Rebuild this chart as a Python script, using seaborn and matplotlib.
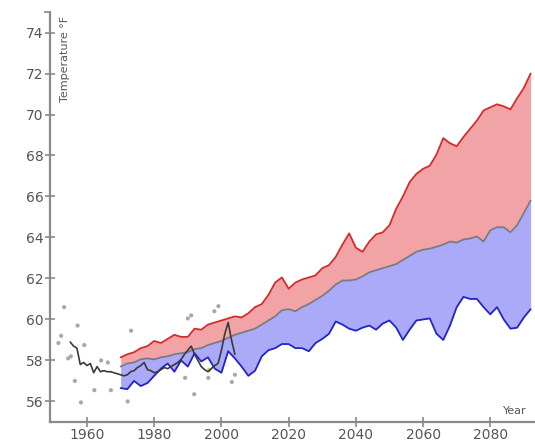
import numpy as np
import pandas as pd
import matplotlib
matplotlib.use("Agg")
import matplotlib.pyplot as plt
import matplotlib.ticker as mticker
import seaborn as sns

# ------------------------------------------------------------
# data
# ------------------------------------------------------------
obs_years = [1951.5, 1952.3, 1953.2, 1954.4, 1955.2, 1956.4, 1957.2, 1958.2, 1959.2,
             1962.2, 1964.2, 1966.2, 1967.1, 1972.1, 1973.1, 1989.2, 1990.0, 1991.0,
             1991.9, 1996.1, 1997.9, 1999.1, 2003.1, 2004.0]
obs_temps = [58.85, 59.2, 60.6, 58.1, 58.2, 57.0, 59.7, 55.95, 58.75,
             56.55, 58.0, 57.9, 56.55, 56.0, 59.45, 57.15, 60.05, 60.2,
             56.35, 57.15, 60.4, 60.65, 56.95, 57.3]
odd_year = [1996.4]
odd_temp = [57.55]

mean_years = list(range(1955, 2005))
mean_temps = [58.9, 58.7, 58.6, 57.8, 57.9, 57.75, 57.85, 57.4, 57.7, 57.45,
              57.5, 57.45, 57.45, 57.4, 57.35, 57.3, 57.25, 57.3, 57.45, 57.5,
              57.65, 57.75, 57.9, 57.55, 57.5, 57.4, 57.45, 57.55, 57.65, 57.6,
              57.7, 57.8, 57.9, 58.05, 58.3, 58.5, 58.7, 58.3, 58.0, 57.7,
              57.55, 57.45, 57.6, 57.75, 57.85, 58.5, 59.3, 59.85, 59.0, 58.3]

proj_years = list(range(1970, 2093, 2))
high = [58.15, 58.3, 58.4, 58.6, 58.7, 58.95, 58.85, 59.05, 59.25, 59.15,
        59.15, 59.55, 59.5, 59.75, 59.85, 59.95, 60.05, 60.15, 60.1, 60.3,
        60.6, 60.75, 61.2, 61.8, 62.05, 61.5, 61.8, 61.95, 62.05, 62.15,
        62.5, 62.65, 63.05, 63.65, 64.2, 63.5, 63.3, 63.8, 64.15, 64.25,
        64.6, 65.4, 66.0, 66.7, 67.1, 67.35, 67.5, 68.05, 68.85, 68.6,
        68.45, 68.9, 69.3, 69.7, 70.2, 70.35, 70.5, 70.4, 70.25, 70.8,
        71.3, 72.0]
mid = [57.7, 57.85, 57.9, 58.05, 58.1, 58.05, 58.15, 58.2, 58.3, 58.35,
       58.4, 58.55, 58.6, 58.75, 58.85, 58.95, 59.1, 59.25, 59.35, 59.45,
       59.55, 59.75, 59.95, 60.15, 60.45, 60.5, 60.4, 60.6, 60.75, 60.95,
       61.15, 61.4, 61.7, 61.9, 61.9, 61.95, 62.1, 62.3, 62.4, 62.5,
       62.6, 62.7, 62.9, 63.1, 63.3, 63.4, 63.45, 63.55, 63.65, 63.8,
       63.75, 63.9, 63.95, 64.05, 63.8, 64.35, 64.5, 64.5, 64.25, 64.6,
       65.2, 65.8]
low = [56.65, 56.6, 57.0, 56.75, 56.9, 57.25, 57.6, 57.85, 57.45, 58.0,
       57.7, 58.35, 57.95, 58.15, 57.6, 57.4, 58.45, 58.1, 57.7, 57.25,
       57.5, 58.2, 58.5, 58.6, 58.8, 58.8, 58.6, 58.6, 58.45, 58.85,
       59.05, 59.3, 59.9, 59.75, 59.55, 59.45, 59.6, 59.7, 59.5, 59.8,
       59.95, 59.6, 59.0, 59.5, 59.95, 60.0, 60.05, 59.3, 59.0, 59.7,
       60.6, 61.1, 61.0, 61.0, 60.6, 60.25, 60.6, 60.0, 59.55, 59.6,
       60.1, 60.5]

x_ticks = [1960, 1980, 2000, 2020, 2040, 2060, 2080]
y_ticks = [56, 58, 60, 62, 64, 66, 68, 70, 72, 74]

# ------------------------------------------------------------
sns.set_style("white")
plt.rcParams['font.family'] = ['DejaVu Sans']

fig = plt.figure(figsize=(5.35, 4.46), dpi=100)
ax = fig.add_axes([0.0935, 0.054, 0.9065, 0.919])

proj = pd.DataFrame({'year': proj_years, 'high': high, 'mid': mid, 'low': low})

ax.fill_between(proj['year'], proj['mid'], proj['high'], color='#f2a3a6', lw=0, zorder=1)
ax.fill_between(proj['year'], proj['low'], proj['mid'], color='#aaaaf8', lw=0, zorder=1)

sns.scatterplot(x=obs_years, y=obs_temps, ax=ax, s=9, color='#a8a8a8',
                edgecolor='none', zorder=2)
sns.scatterplot(x=odd_year, y=odd_temp, ax=ax, s=9, color='#c8cc70',
                edgecolor='none', zorder=2)

sns.lineplot(data=proj, x='year', y='high', ax=ax, color='#d42a2a', lw=1.3,
             estimator=None, zorder=4)
sns.lineplot(data=proj, x='year', y='mid', ax=ax, color='#7a7a86', lw=1.3,
             estimator=None, zorder=4)
sns.lineplot(data=proj, x='year', y='low', ax=ax, color='#2424c8', lw=1.3,
             estimator=None, zorder=4)
sns.lineplot(x=mean_years, y=mean_temps, ax=ax, color='#3a3a3a', lw=1.2,
             estimator=None, zorder=5)

ax.set_xlim(1949, 2093.3)
ax.set_ylim(55, 75)
ax.xaxis.set_major_locator(mticker.FixedLocator(x_ticks))
ax.yaxis.set_major_locator(mticker.FixedLocator(y_ticks))
ax.xaxis.set_minor_locator(mticker.NullLocator())
ax.yaxis.set_minor_locator(mticker.FixedLocator([75]))
ax.set_xlabel('')
ax.set_ylabel('')

for s in ['top', 'right']:
    ax.spines[s].set_visible(False)
for s in ['left', 'bottom']:
    ax.spines[s].set_color('#8a8a8a')
    ax.spines[s].set_linewidth(1.6)

ax.tick_params(axis='both', which='both', bottom=True, left=True)
ax.tick_params(axis='both', which='major', direction='inout', length=7, width=1.2,
               color='#8a8a8a', labelsize=10, labelcolor='#555555', pad=1)
ax.tick_params(axis='y', which='minor', direction='out', length=4, width=1.2,
               color='#8a8a8a')

fig.text(65 / 535, 1 - 16 / 446, 'Temperature °F', rotation=90, ha='center', va='top',
         fontsize=8, color='#555555')
fig.text(503 / 535, 1 - 411 / 446, 'Year', ha='left', va='center',
         fontsize=8, color='#555555')

fig.savefig('out.png', dpi=100)
